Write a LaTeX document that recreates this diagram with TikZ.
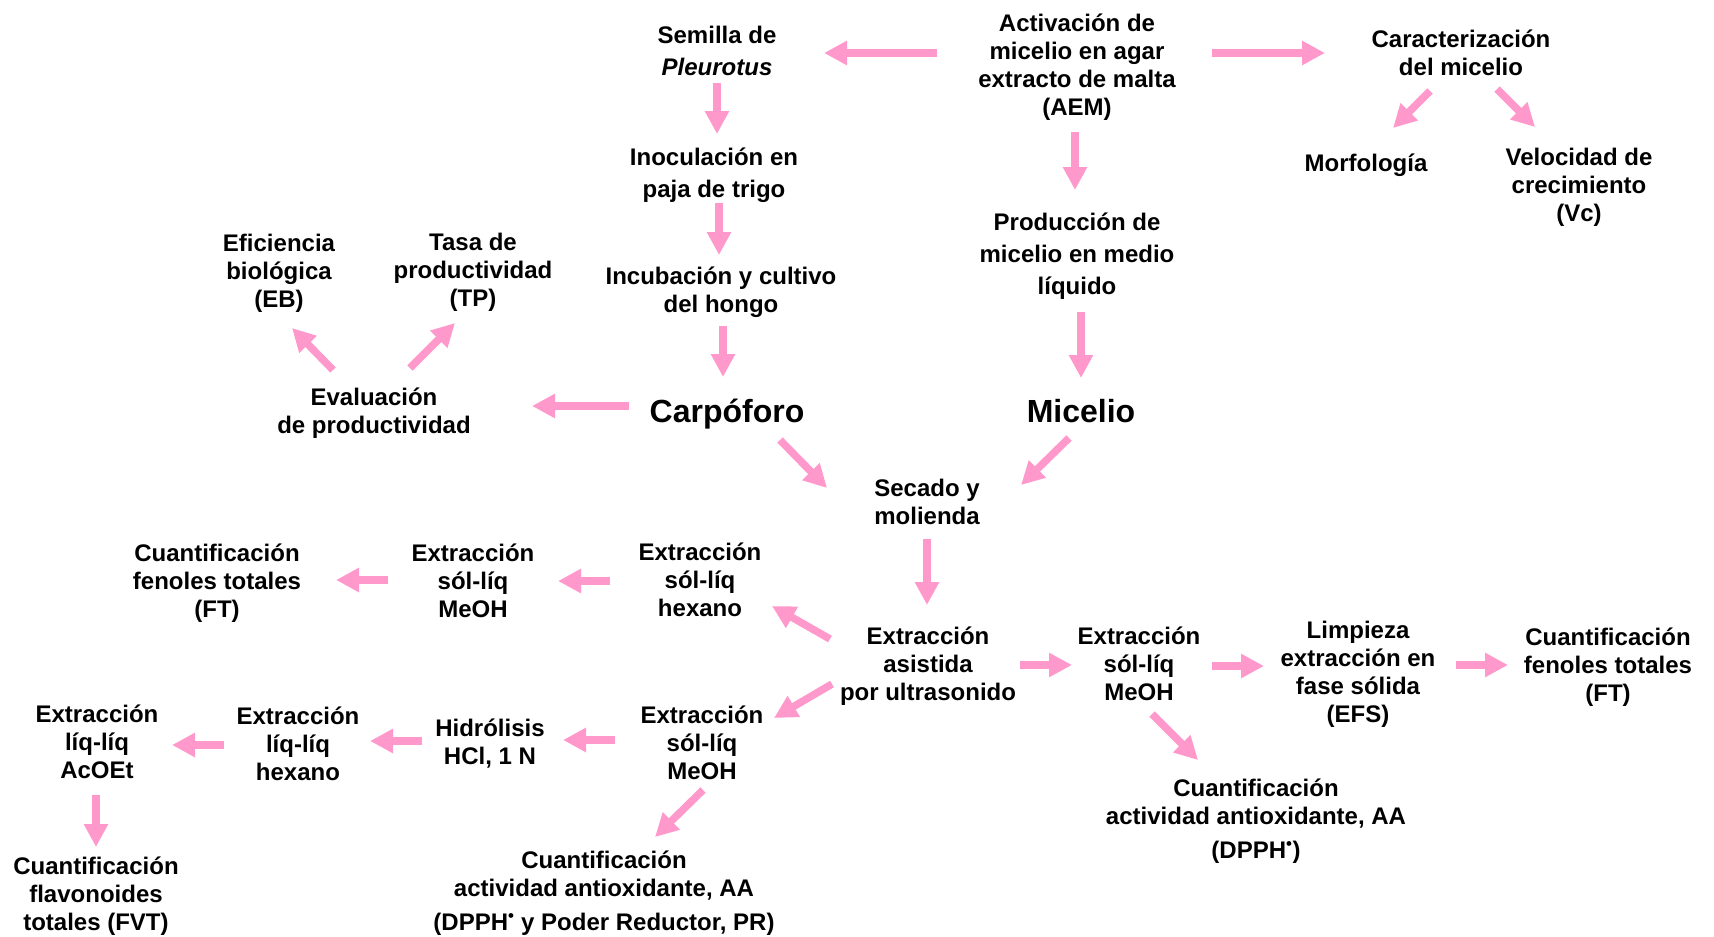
\documentclass[tikz,border=0pt]{standalone}
\usepackage{fontspec}
\setmainfont{Liberation Sans}
\usetikzlibrary{arrows.meta}
\definecolor{pinkA}{RGB}{255,153,204}
\newcommand\nl{\\\strut}
\newcommand\dotsup{\textsuperscript{\textbullet}}
\begin{document}
\begin{tikzpicture}[x=1pt,y=-1pt,
  base/.style={align=center, inner sep=0pt, execute at begin node=\strut},
  txt/.style={base, font=\fontsize{24}{28}\selectfont\bfseries, yshift=-2pt},
  txtw/.style={base, font=\fontsize{24}{32}\selectfont\bfseries, yshift=-2pt},
  big/.style={base, font=\fontsize{32}{38}\selectfont\bfseries},
  arr/.style={draw=pinkA, line width=7.5pt, -{Triangle[length=23pt,width=23pt]}, transform canvas={yshift=2pt}}]
\fill[white] (0,0) rectangle (1714,937);
\useasboundingbox (0,0) rectangle (1714,937);
% nodes
\node[txtw] (semilla) at (717,54) {Semilla de\nl\textit{Pleurotus}};
\node[txt] (activ) at (1077,67) {Activación de\nl micelio en agar\nl extracto de malta\nl (AEM)};
\node[txt] (caract) at (1461,55) {Caracterización\nl del micelio};
\node[txt] (morfo) at (1366,164) {Morfología};
\node[txt] (veloc) at (1579,187) {Velocidad de\nl crecimiento\nl (Vc)};
\node[txtw] (inoc) at (714,175) {Inoculación en\nl paja de trigo};
\node[txtw] (prod) at (1077,256) {Producción de\nl micelio en medio\nl líquido};
\node[txt] (incub) at (721,292) {Incubación y cultivo\nl del hongo};
\node[txt] (efic) at (279,273) {Eficiencia\nl biológica\nl (EB)};
\node[txt] (tasa) at (473,272) {Tasa de\nl productividad\nl (TP)};
\node[txt] (evalu) at (374,413) {Evaluación\nl de productividad};
\node[big] (carpo) at (727,415) {Carpóforo};
\node[big] (mic) at (1081,415) {Micelio};
\node[txt] (secado) at (927,504) {Secado y\nl molienda};
\node[txt] (ftL) at (217,583) {Cuantificación\nl fenoles totales\nl (FT)};
\node[txt] (meohL) at (473,583) {Extracción\nl sól-líq\nl MeOH};
\node[txt] (hexS) at (700,582) {Extracción\nl sól-líq\nl hexano};
\node[txt] (asist) at (928,666) {Extracción\nl asistida\nl por ultrasonido};
\node[txt] (meohR) at (1139,666) {Extracción\nl sól-líq\nl MeOH};
\node[txt] (limp) at (1358,674) {Limpieza\nl extracción en\nl fase sólida\nl (EFS)};
\node[txt] (ftR) at (1608,667) {Cuantificación\nl fenoles totales\nl (FT)};
\node[txt] (aaR) at (1256,821) {Cuantificación\nl actividad antioxidante, AA\\[6pt]\strut (DPPH\dotsup)};
\node[txt] (meohB) at (702,745) {Extracción\nl sól-líq\nl MeOH};
\node[txt] (hidro) at (490,744) {Hidrólisis\nl HCl, 1 N};
\node[txt] (hexL) at (298,746) {Extracción\nl líq-líq\nl hexano};
\node[txt] (acoet) at (97,744) {Extracción\nl líq-líq\nl AcOEt};
\node[txt] (fvt) at (96,896) {Cuantificación\nl flavonoides\nl totales (FVT)};
\node[txt] (aaB) at (604,893) {Cuantificación\nl actividad antioxidante, AA\\[6pt]\strut (DPPH\dotsup\ y Poder Reductor, PR)};
% arrows
\draw[arr] ([shift={(-140,-14)}]activ.center) -- ([shift={(107,-1)}]semilla.center);
\draw[arr] ([shift={(135,-14)}]activ.center) -- ([shift={(-136,-2)}]caract.center);
\draw[arr] ([shift={(-31,36)}]caract.center) -- ([shift={(27,-36)}]morfo.center);
\draw[arr] ([shift={(36,34)}]caract.center) -- ([shift={(-44,-60)}]veloc.center);
\draw[arr] ([shift={(0,29)}]semilla.center) -- ([shift={(3,-41)}]inoc.center);
\draw[arr] ([shift={(-2,65)}]activ.center) -- ([shift={(-2,-66)}]prod.center);
\draw[arr] ([shift={(5,28)}]inoc.center) -- ([shift={(-2,-37)}]incub.center);
\draw[arr] ([shift={(2,34)}]incub.center) -- ([shift={(-4,-36)}]carpo.center);
\draw[arr] ([shift={(4,56)}]prod.center) -- ([shift={(0,-35)}]mic.center);
\draw[arr] ([shift={(-98,-7)}]carpo.center) -- ([shift={(158,-7)}]evalu.center);
\draw[arr] ([shift={(-41,-43)}]evalu.center) -- ([shift={(13,55)}]efic.center);
\draw[arr] ([shift={(36,-45)}]evalu.center) -- ([shift={(-18,51)}]tasa.center);
\draw[arr] ([shift={(53,27)}]carpo.center) -- ([shift={(-100,-16)}]secado.center);
\draw[arr] ([shift={(-12,25)}]mic.center) -- ([shift={(94,-19)}]secado.center);
\draw[arr] ([shift={(0,35)}]secado.center) -- ([shift={(-1,-61)}]asist.center);
\draw[arr] ([shift={(-98,-27)}]asist.center) -- ([shift={(72,24)}]hexS.center);
\draw[arr] ([shift={(-90,-1)}]hexS.center) -- ([shift={(85,-2)}]meohL.center);
\draw[arr] ([shift={(-85,-3)}]meohL.center) -- ([shift={(119,-3)}]ftL.center);
\draw[arr] ([shift={(-96,18)}]asist.center) -- ([shift={(72,-27)}]meohB.center);
\draw[arr] ([shift={(92,-1)}]asist.center) -- ([shift={(-67,-1)}]meohR.center);
\draw[arr] ([shift={(73,0)}]meohR.center) -- ([shift={(-94,-8)}]limp.center);
\draw[arr] ([shift={(98,-9)}]limp.center) -- ([shift={(-100,-2)}]ftR.center);
\draw[arr] ([shift={(13,48)}]meohR.center) -- ([shift={(-58,-61)}]aaR.center);
\draw[arr] ([shift={(-87,-5)}]meohB.center) -- ([shift={(73,-4)}]hidro.center);
\draw[arr] ([shift={(-68,-3)}]hidro.center) -- ([shift={(72,-5)}]hexL.center);
\draw[arr] ([shift={(-74,-1)}]hexL.center) -- ([shift={(75,1)}]acoet.center);
\draw[arr] ([shift={(1,45)}]meohB.center) -- ([shift={(51,-56)}]aaB.center);
\draw[arr] ([shift={(-1,51)}]acoet.center) -- ([shift={(0,-49)}]fvt.center);
\end{tikzpicture}
\end{document}
